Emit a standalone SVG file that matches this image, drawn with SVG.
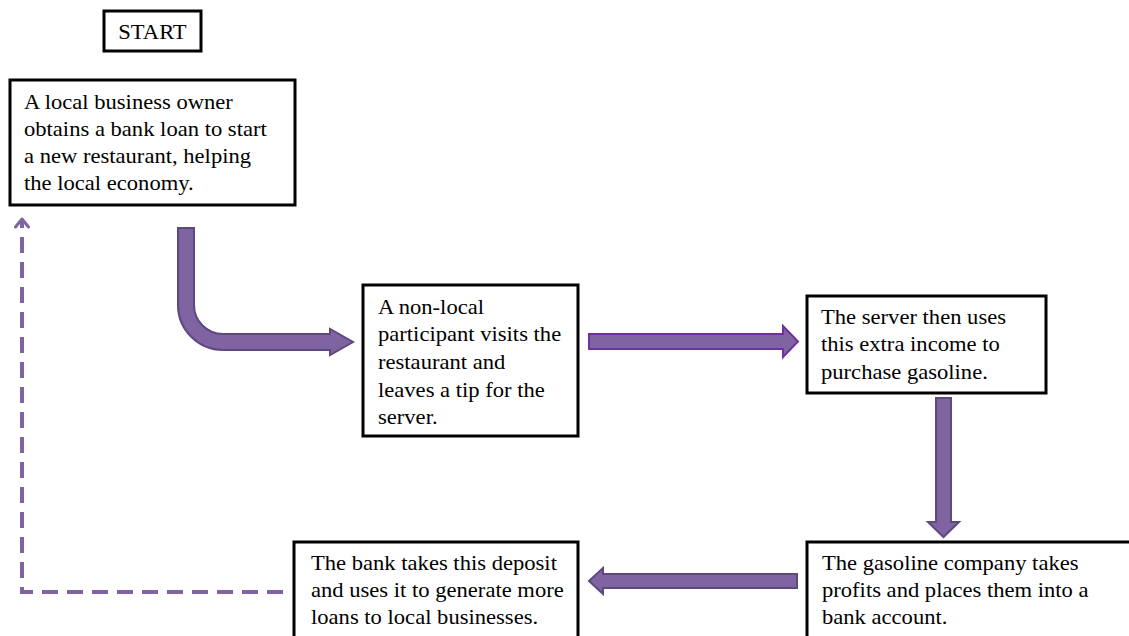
<svg xmlns="http://www.w3.org/2000/svg" width="1129" height="636" viewBox="0 0 1129 636">
  <style>
    .box { fill: #ffffff; stroke: #000000; stroke-width: 3; }
    .txt { font-family: "Liberation Serif", "Times New Roman", serif; font-size: 20px; fill: #000000; }
    .arrowA { fill: #8064A2; stroke: #5C4A7E; stroke-width: 2; stroke-linejoin: miter; }
    .arrowB { fill: #8064A2; stroke: #7030A0; stroke-width: 2; stroke-linejoin: miter; }
    .dash { fill: none; stroke: #8064A2; stroke-width: 4; stroke-dasharray: 16 9; }
  </style>
  <defs>
    <marker id="openArrow" viewBox="0 0 12 16" refX="10" refY="8" markerWidth="12" markerHeight="16" markerUnits="userSpaceOnUse" orient="auto">
      <path d="M2,1.5 L10,8 L2,14.5" fill="none" stroke="#8064A2" stroke-width="3" stroke-linecap="round" stroke-linejoin="round"/>
    </marker>
  </defs>

  <g id="connectors">
    <!-- bent arrow: box1 to box2 -->
    <path class="arrowA" d="M178,228 V305 A45,45 0 0 0 223,350 H330 V355 L353,342 L330,329 V334 H223 A29,29 0 0 1 194,305 V228 Z"/>
    <!-- right arrow: box2 to box3 -->
    <path class="arrowB" d="M589,334 H783 V326 L798,341.5 L783,357 V349 H589 Z"/>
    <!-- down arrow: box3 to box4 -->
    <path class="arrowA" d="M936,398 V522 H928 L943.5,537 L959,522 H951 V398 Z"/>
    <!-- left arrow: box4 to box5 -->
    <path class="arrowA" d="M797,574 H603 V568 L589,581 L603,594 V588 H797 Z"/>
    <!-- dashed feedback: box5 to box1 -->
    <path class="dash" d="M283,592 H22 V219" marker-end="url(#openArrow)"/>
  </g>

  <g id="start">
    <rect class="box" x="104" y="11" width="97" height="40"/>
    <g transform="translate(152.5 0) scale(1.13 1) translate(-152.5 0)">
      <text class="txt" x="152.5" y="39" text-anchor="middle">START</text>
    </g>
  </g>

  <g id="node1">
    <rect class="box" x="10" y="80" width="285" height="125"/>
    <g transform="translate(24 0) scale(1.13 1) translate(-24 0)">
      <text class="txt" x="24" y="109">A local business owner</text>
      <text class="txt" x="24" y="136">obtains a bank loan to start</text>
      <text class="txt" x="24" y="163">a new restaurant, helping</text>
      <text class="txt" x="24" y="190">the local economy.</text>
    </g>
  </g>

  <g id="node2">
    <rect class="box" x="363" y="285" width="215" height="151"/>
    <g transform="translate(378 0) scale(1.13 1) translate(-378 0)">
      <text class="txt" x="378" y="314">A non-local</text>
      <text class="txt" x="378" y="341">participant visits the</text>
      <text class="txt" x="378" y="369">restaurant and</text>
      <text class="txt" x="378" y="397">leaves a tip for the</text>
      <text class="txt" x="378" y="424">server.</text>
    </g>
  </g>

  <g id="node3">
    <rect class="box" x="807" y="296" width="239" height="97"/>
    <g transform="translate(821 0) scale(1.13 1) translate(-821 0)">
      <text class="txt" x="821" y="324">The server then uses</text>
      <text class="txt" x="821" y="351">this extra income to</text>
      <text class="txt" x="821" y="379">purchase gasoline.</text>
    </g>
  </g>

  <g id="node4">
    <rect class="box" x="807" y="542" width="330" height="110"/>
    <g transform="translate(822 0) scale(1.13 1) translate(-822 0)">
      <text class="txt" x="822" y="570">The gasoline company takes</text>
      <text class="txt" x="822" y="597">profits and places them into a</text>
      <text class="txt" x="822" y="624">bank account.</text>
    </g>
  </g>

  <g id="node5">
    <rect class="box" x="294" y="542" width="284" height="110"/>
    <g transform="translate(311 0) scale(1.13 1) translate(-311 0)">
      <text class="txt" x="311" y="570">The bank takes this deposit</text>
      <text class="txt" x="311" y="597">and uses it to generate more</text>
      <text class="txt" x="311" y="624">loans to local businesses.</text>
    </g>
  </g>
</svg>
